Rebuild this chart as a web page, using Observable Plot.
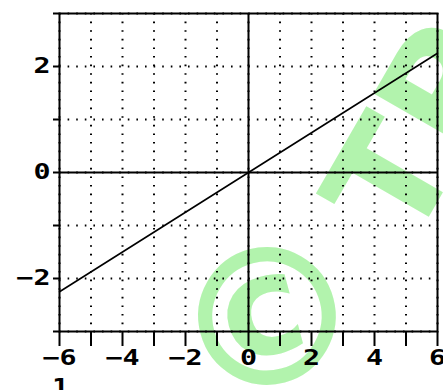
<!DOCTYPE html>
<html>
<head>
<meta charset="utf-8">
<script src="https://cdn.jsdelivr.net/npm/d3@7"></script>
<script src="https://cdn.jsdelivr.net/npm/@observablehq/plot@0.6"></script>
<style>
  html, body { margin: 0; padding: 0; background: #fff; overflow: hidden; }
  #wrap { position: relative; width: 443px; height: 390px; }
  #extra { position: absolute; left: 52px; top: 375px; font: bold 21px "DejaVu Sans Mono", monospace; color: #000; transform: scaleX(1.35); transform-origin: left top; }
</style>
</head>
<body>
<div id="wrap"><div id="chart"></div><div id="extra">1</div></div>
<script>
const lineX = [-6, 0, 6];
const lineY = [-2.25, 0, 2.25];
const xTicks = [-6, -5, -4, -3, -2, -1, 0, 1, 2, 3, 4, 5, 6];
const yTicks = [-3, -2, -1, 0, 1, 2, 3];
const xLabels = [-6, -4, -2, 0, 2, 4, 6];
const yLabels = [-2, 0, 2];
const watermarks = [
  {x: 0.65, y: -2.85, text: "©", size: 190, rotate: -15},
  {x: 5.5, y: 0.75, text: "TP", size: 150, rotate: -60}
];

const lineData = lineX.map((x, i) => ({x, y: lineY[i]}));
const fmtX = d => xLabels.includes(d) ? (d < 0 ? "\u2212" + Math.abs(d) : String(d)) : "";
const fmtY = d => yLabels.includes(d) ? (d < 0 ? "\u2212" + Math.abs(d) : String(d)) : "";

const chart = Plot.plot({
  width: 443,
  height: 390,
  marginLeft: 59,
  marginRight: 6,
  marginTop: 13,
  marginBottom: 59,
  style: {fontFamily: "DejaVu Sans Mono", fontWeight: "bold", fontSize: "21px", color: "#000", background: "#fff"},
  x: {domain: [-6, 6]},
  y: {domain: [-3, 3]},
  marks: [
    Plot.text(watermarks, {x: "x", y: "y", text: "text", fontSize: d => d.size, rotate: "rotate", fill: "#b2f3ad", fontFamily: "DejaVu Sans", fontWeight: "bold"}),
    Plot.gridX(xTicks, {stroke: "#000", strokeOpacity: 1, strokeWidth: 2, strokeDasharray: "1.6,7"}),
    Plot.gridY(yTicks, {stroke: "#000", strokeOpacity: 1, strokeWidth: 2, strokeDasharray: "1.6,7"}),
    Plot.ruleX([0], {stroke: "#000", strokeWidth: 2}),
    Plot.ruleY([0], {stroke: "#000", strokeWidth: 2}),
    Plot.line(lineData, {x: "x", y: "y", stroke: "#000", strokeWidth: 1.6}),
    Plot.frame({stroke: "#000", strokeWidth: 2}),
    Plot.axisX(xTicks, {tickSize: 15, tickPadding: 4, tickFormat: fmtX, strokeWidth: 2, stroke: "#000", fontSize: 21, fontWeight: "bold", fill: "#000", label: null}),
    Plot.axisY(yTicks, {tickSize: 6, tickPadding: 3, tickFormat: fmtY, strokeWidth: 2, stroke: "#000", fontSize: 21, fontWeight: "bold", fill: "#000", label: null})
  ]
});
d3.select(chart).selectAll('g[aria-label="x-axis tick label"] text, g[aria-label="y-axis tick label"] text')
  .attr("transform", function() { const t = this.getAttribute("transform") || ""; return t + " scale(1.35,1)"; });
document.getElementById("chart").appendChild(chart);
</script>
</body>
</html>
